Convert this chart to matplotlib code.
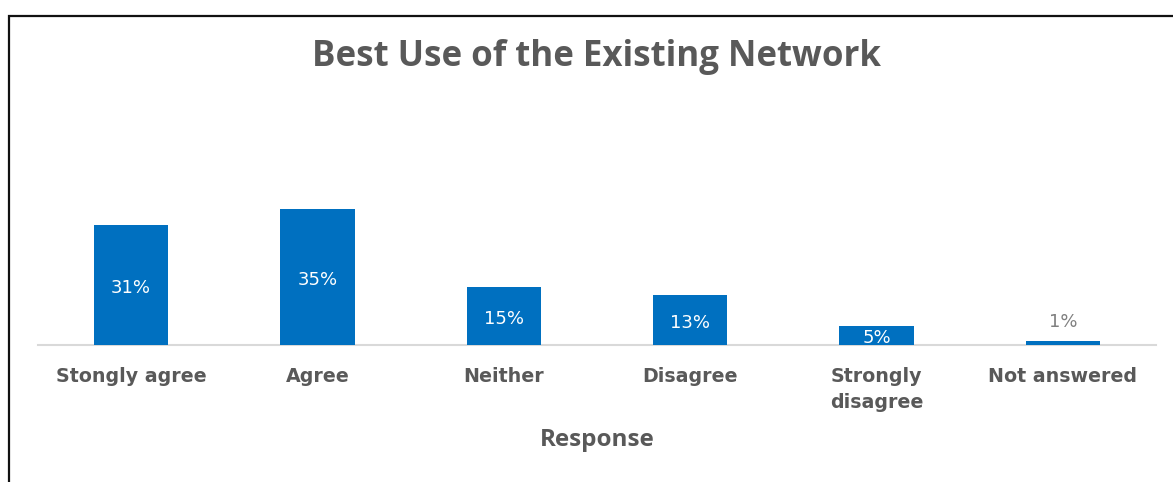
import matplotlib
matplotlib.use("Agg")
import matplotlib.pyplot as plt
from matplotlib.patches import Rectangle

categories = ["Stongly agree", "Agree", "Neither", "Disagree", "Strongly\ndisagree", "Not answered"]
values = [31, 35, 15, 13, 5, 1]
labels = ["31%", "35%", "15%", "13%", "5%", "1%"]

W, H = 1173, 482
fig = plt.figure(figsize=(W / 100, H / 100), dpi=100)
fig.patch.set_facecolor("white")

def px(x, y):
    return x / W, 1 - y / H

# plot area: baseline at y=345 px, 3.88 px per percentage point
ax_left, ax_right, ax_top, ax_base = 38, 1156, 100, 345
ax = fig.add_axes([ax_left / W, 1 - ax_base / H, (ax_right - ax_left) / W, (ax_base - ax_top) / H])
ax.set_ylim(0, (ax_base - ax_top) / 3.88)
ax.set_xlim(-0.5, len(categories) - 0.5)

blue = "#0070C0"
grey = "#595959"
x = range(len(categories))
bars = ax.bar(x, values, width=0.40, color=blue, zorder=3)

for i, (b, v, lab) in enumerate(zip(bars, values, labels)):
    cx = b.get_x() + b.get_width() / 2
    if v >= 3:
        ax.annotate(lab, (cx, v / 2), xytext=(0, -2), textcoords="offset points",
                    ha="center", va="center", color="white",
                    fontsize=13, family="DejaVu Sans", zorder=4)
    else:
        ax.annotate(lab, (cx, v), xytext=(0, 14), textcoords="offset points",
                    ha="center", va="center", color="#7f7f7f", fontsize=13,
                    family="DejaVu Sans")

for s in ["top", "right", "left"]:
    ax.spines[s].set_visible(False)
ax.spines["bottom"].set_color("#d9d9d9")
ax.spines["bottom"].set_linewidth(1.5)
ax.set_yticks([])
ax.set_xticks(list(x))
ax.set_xticklabels(categories, fontsize=13.7, fontweight="bold", color=grey,
                   family="DejaVu Sans", linespacing=1.45)
ax.tick_params(axis="x", length=0, pad=16)
ax.set_facecolor("none")

fig.text(*px(597, 57), "Best Use of the Existing Network", ha="center", va="center",
         fontsize=25.1, fontweight="bold", color=grey, family="Open Sans")
fig.text(*px(597, 440), "Response", ha="center", va="center",
         fontsize=17.5, fontweight="bold", color=grey, family="Open Sans")

# chart frame (left and top edges visible)
frame = Rectangle(px(9, 600), 1300 / W, (600 - 15.5) / H, transform=fig.transFigure,
                  fill=False, edgecolor="#111111", linewidth=1.6)
fig.patches.append(frame)

fig.savefig("out.png", dpi=100, facecolor="white")
